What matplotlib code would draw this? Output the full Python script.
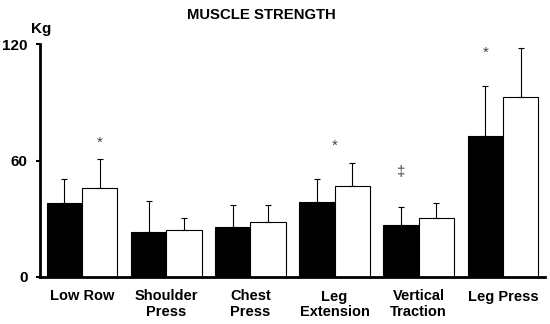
import matplotlib.pyplot as plt
import numpy as np

plt.rcParams['font.family'] = ['Liberation Sans', 'DejaVu Sans']
plt.rcParams['font.weight'] = 'bold'

categories = ['Low Row', 'Shoulder\nPress', 'Chest\nPress', 'Leg\nExtension', 'Vertical\nTraction', 'Leg Press']
pre_mean = [38.0, 23.2, 25.6, 38.7, 27.0, 72.8]
pre_err = [12.7, 16.1, 11.4, 11.7, 8.9, 25.8]
post_mean = [45.9, 24.4, 28.5, 46.8, 30.6, 92.8]
post_err = [15.0, 6.0, 8.5, 12.0, 7.4, 25.1]
marks = ['*', '', '', '*', '\u2021', '*']
mark_y = [69, 0, 0, 67.5, 54, 115.5]

x = np.arange(len(categories))
w = 0.42
# where each mark sits: -1 over pre bar, 0 between, +1 over post bar
mark_side = [1, 0, 0, 0, -1, -1]

fig = plt.figure(figsize=(5.5, 3.24), dpi=100)
ax = fig.add_axes([40/550, 1 - 277/324, 505/550, 233/324])

ekw = dict(ecolor='black', elinewidth=0.8, capsize=2, capthick=0.8)
ax.bar(x - w/2, pre_mean, w, color='black', edgecolor='black', linewidth=0.8,
       yerr=[np.zeros(6), pre_err], error_kw=ekw)
ax.bar(x + w/2, post_mean, w, color='white', edgecolor='black', linewidth=0.8,
       yerr=[np.zeros(6), post_err], error_kw=ekw)

for i, m in enumerate(marks):
    if m:
        ax.text(x[i] + mark_side[i] * w/2, mark_y[i], m, ha='center', va='center',
                fontsize=11, fontweight='normal', color='#444444')

ax.set_xlim(-0.5, 5.5)
ax.set_ylim(0, 120)
ax.set_yticks([0, 60, 120])
ax.set_xticks(x)
ax.set_xticklabels(categories, fontsize=10.5, fontweight='bold', linespacing=1.15)
ax.tick_params(axis='y', labelsize=11, length=3, width=1.5, pad=6)
ax.tick_params(axis='x', length=0, pad=9)
for s in ['top', 'right']:
    ax.spines[s].set_visible(False)
ax.spines['left'].set_linewidth(2)
ax.spines['bottom'].set_linewidth(2)

fig.text(41/550, 1 - 29/324, 'Kg', ha='center', va='center', fontsize=11, fontweight='bold')
fig.text(261/550, 1 - 15/324, 'MUSCLE STRENGTH', ha='center', va='center', fontsize=10.7, fontweight='bold')

fig.savefig('out.png', dpi=100)
